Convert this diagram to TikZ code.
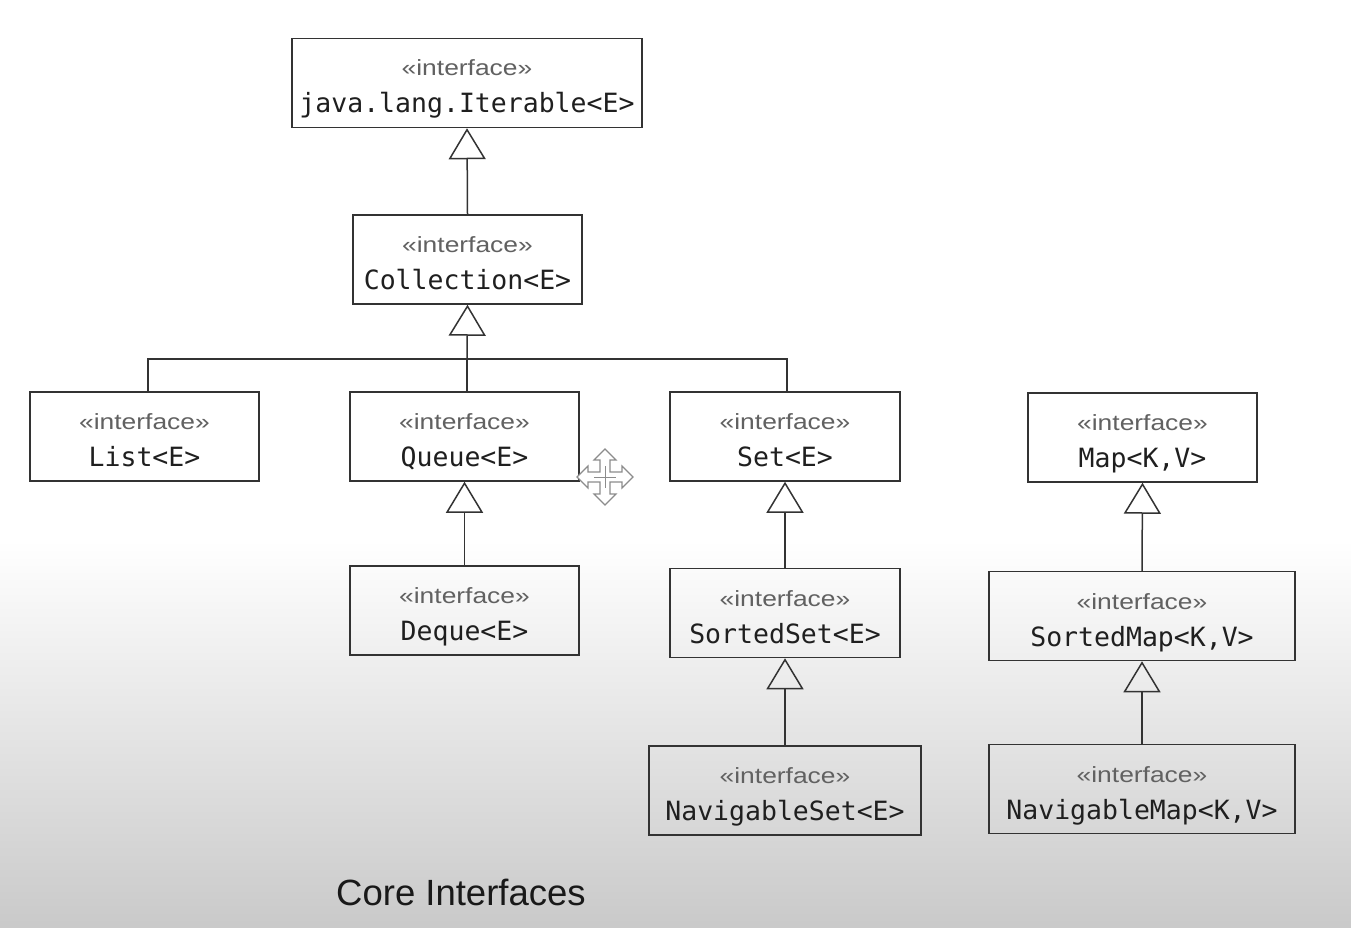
\documentclass[tikz,border=0pt]{standalone}
\usepackage{fontspec}
\usetikzlibrary{arrows.meta}
\newfontfamily\stereofont[FakeStretch=1.2]{Liberation Sans}
\newfontfamily\ifmonofont{DejaVu Sans Mono}
\newfontfamily\titlefont{Liberation Sans}
\tikzset{
  ibox/.style={draw=black!80, line width=1.5pt, minimum height=89pt, inner sep=0pt},
  stereo/.style={anchor=base, inner sep=0pt, text=black!62, font=\stereofont\fontsize{22}{26}\selectfont},
  iname/.style={anchor=base, inner sep=0pt, text=black!88, font=\ifmonofont\fontsize{26.5}{30}\selectfont},
  conn/.style={draw=black!80, line width=1.5pt},
  inh/.style={conn, -{Triangle[open, width=37pt, length=31pt]}},
}
\newcommand\iface[4]{%
  \node[ibox, minimum width=#3] (#1) at (#2) {};
  \node[stereo] (#1-s) at ([yshift=7pt]#1.center) {«interface»};
  \node[iname] (#1-n) at ([yshift=-30pt]#1.center) {#4};
}
\begin{document}
\begin{tikzpicture}[x=1pt, y=-1pt]
\useasboundingbox (0,0) rectangle (1351,928);
\fill[white] (0,0) rectangle (1351,928);
\shade[top color=white, bottom color=black!21] (0,540) rectangle (1351,928);

\iface{iter}{467,83}{350pt}{java.lang.Iterable<E>}
\iface{coll}{467.5,259.5}{229pt}{Collection<E>}
\iface{list}{144.5,436.5}{229pt}{List<E>}
\iface{queue}{464.5,436.5}{229pt}{Queue<E>}
\iface{set}{785,436.5}{230pt}{Set<E>}
\iface{map}{1142.5,437.5}{229pt}{Map<K,V>}
\iface{deque}{464.5,610.5}{229pt}{Deque<E>}
\iface{sset}{785,613}{230pt}{SortedSet<E>}
\iface{smap}{1142,616}{306pt}{SortedMap<K,V>}
\iface{nset}{785,790.5}{272pt}{NavigableSet<E>}
\iface{nmap}{1142,789}{306pt}{NavigableMap<K,V>}

% inheritance
\draw[inh] (coll.north) -- (iter.south);
\coordinate (bus) at (467,359);
\draw[inh] (bus) -- (coll.south);
\draw[conn] ([xshift=3.5pt]list.north) |- (bus) -| ([xshift=2pt]set.north);
\draw[conn] (bus) -- ([xshift=2.5pt]queue.north);
\draw[inh] (deque.north) -- (queue.south);
\draw[inh] (sset.north) -- (set.south);
\draw[inh] (nset.north) -- (sset.south);
\draw[inh] (smap.north) -- (map.south);
\draw[inh] (nmap.north) -- (smap.south);

% move cursor
\draw[black!45, line width=1.2pt, fill=white, line join=miter]
  (605,477) ++(0,-28) -- ++(11,11) -- ++(-6,0) -- ++(0,12) -- ++(12,0) -- ++(0,-6)
  -- ++(11,11) -- ++(-11,11) -- ++(0,-6) -- ++(-12,0) -- ++(0,12) -- ++(6,0)
  -- ++(-11,11) -- ++(-11,-11) -- ++(6,0) -- ++(0,-12) -- ++(-12,0) -- ++(0,6)
  -- ++(-11,-11) -- ++(11,-11) -- ++(0,6) -- ++(12,0) -- ++(0,-12) -- ++(-6,0) -- cycle;
\draw[black!45, line width=1pt] (605,466) -- (605,488) (594,477) -- (616,477);

\node[anchor=base west, inner sep=0pt, text=black!90, font=\titlefont\fontsize{36.5}{40}\selectfont] (title) at (336,905) {Core Interfaces};
\end{tikzpicture}
\end{document}
